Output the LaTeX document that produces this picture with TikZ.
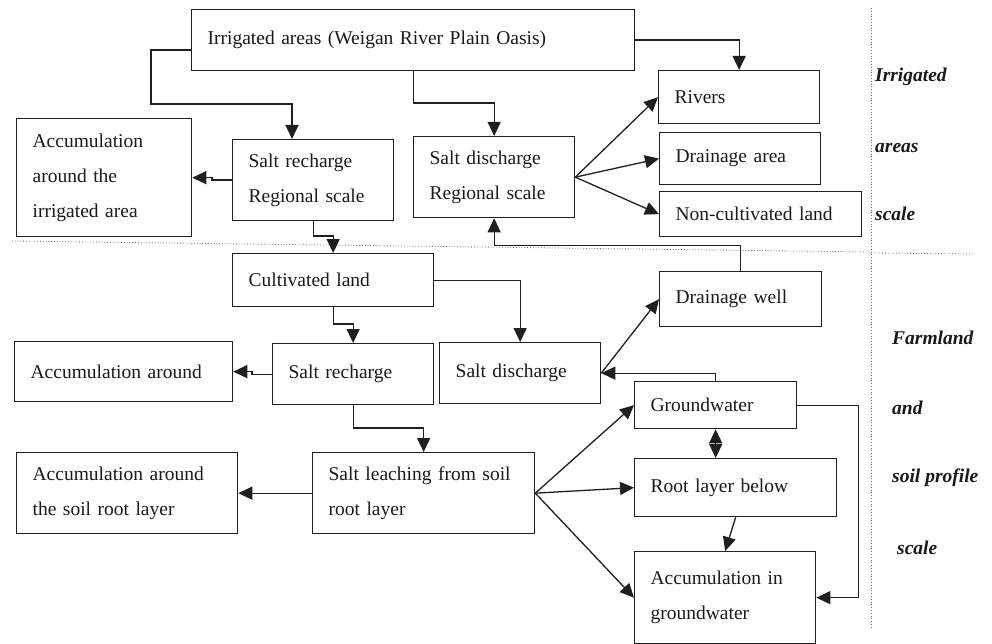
\documentclass[tikz,border=0pt]{standalone}
\usepackage{fontspec}
\setmainfont{Liberation Serif}
\usetikzlibrary{arrows.meta,calc}
\begin{document}
\begin{tikzpicture}[x=1pt,y=-1pt,
  box/.style={draw=black!88, line width=1.3pt, anchor=north west, inner xsep=16pt, inner ysep=0pt,
    align=left, text=black!90, font=\fontsize{19.5pt}{35pt}\selectfont},
  lab/.style={anchor=west, inner sep=0pt, text=black!90, font=\fontsize{19.5pt}{24pt}\selectfont\bfseries\itshape},
  arr/.style={draw=black!88, line width=1.3pt, -{Triangle[length=14pt,width=13pt]}},
  arrb/.style={draw=black!88, line width=1.3pt, {Triangle[length=14pt,width=13pt]}-{Triangle[length=14pt,width=13pt]}},
  dotline/.style={draw=black!60, line width=0.8pt, dotted}]
\useasboundingbox (0,0) rectangle (992,644);

% boxes
\node[box, minimum width=443pt, minimum height=61pt, text width=411pt] (top) at (191,9) {Irrigated areas (Weigan River Plain Oasis)};
\node[box, minimum width=175pt, minimum height=118pt, text width=143pt] (accIrr) at (16,118) {Accumulation\\around the\\irrigated area};
\node[box, minimum width=161pt, minimum height=81pt, text width=129pt] (recReg) at (232,139) {Salt recharge\\Regional scale};
\node[box, minimum width=161pt, minimum height=81pt, text width=129pt] (disReg) at (413,136) {Salt discharge\\Regional scale};
\node[box, minimum width=161pt, minimum height=53pt, text width=129pt] (rivers) at (658,70) {Rivers};
\node[box, minimum width=161pt, minimum height=52pt, text width=129pt] (drainArea) at (659,132) {Drainage area};
\node[box, minimum width=202pt, minimum height=45pt, text width=170pt] (noncult) at (659,191) {Non-cultivated land};
\node[box, minimum width=201pt, minimum height=53pt, text width=169pt] (cult) at (232,253) {Cultivated land};
\node[box, minimum width=162pt, minimum height=55pt, text width=130pt] (well) at (659,271) {Drainage well};
\node[box, minimum width=161pt, minimum height=61pt, text width=129pt] (disFarm) at (439,342) {Salt discharge};
\node[box, minimum width=161pt, minimum height=61pt, text width=129pt] (recFarm) at (272,343) {Salt recharge};
\node[box, minimum width=218pt, minimum height=60pt, text width=186pt] (accAround) at (14,341) {Accumulation around};
\node[box, minimum width=162pt, minimum height=47pt, text width=130pt] (gw) at (634,381) {Groundwater};
\node[box, minimum width=202pt, minimum height=58pt, text width=170pt] (root) at (634,458) {Root layer below};
\node[box, minimum width=181pt, minimum height=92pt, text width=149pt] (accGw) at (634,551) {Accumulation in\\groundwater};
\node[box, minimum width=222pt, minimum height=81pt, text width=190pt] (leach) at (312,452) {Salt leaching from soil\\root layer};
\node[box, minimum width=221pt, minimum height=81pt, text width=189pt] (accRoot) at (16,452) {Accumulation around\\the soil root layer};

% scale labels
\node[lab] (l1) at (875,77) {Irrigated};
\node[lab] (l2) at (875,148) {areas};
\node[lab] (l3) at (875,214) {scale};
\node[lab] (l4) at (892,338) {Farmland};
\node[lab] (l5) at (892,408) {and};
\node[lab] (l6) at (892,478) {soil profile};
\node[lab] (l7) at (897,548) {scale};

% dotted separators
\draw[dotline] (12,241) -- (871,252);
\draw[dotline] (871,253) -- (975,254);
\draw[dotline] (871,8) -- (871,628);

% connectors, regional level
\draw[arr] ($(top.north west)+(0,41)$) -| (151,104) -| ($(recReg.north west)+(60,0)$);
\draw[arr] (top.south) |- ($(disReg.north)+(0,-33)$) -- (disReg.north);
\draw[arr] ($(top.north east)+(0,31)$) -| (rivers.north);
\draw[arr] (recReg.west) -- ++(-20,0) |- (accIrr.east);
\draw[arr] (disReg.east) -- (rivers.west);
\draw[arr] (disReg.east) -- (drainArea.west);
\draw[arr] (disReg.east) -- (noncult.west);
\draw[arr] (recReg.south) |- ($(cult.north)+(0,-17)$) -- (cult.north);
\draw[arr] (well.north) |- ($(disReg.south)+(0,27)$) -- (disReg.south);

% connectors, farmland level
\draw[arr] (cult.east) -| (disFarm.north);
\draw[arr] (cult.south) |- ($(recFarm.north)+(0,-19)$) -- (recFarm.north);
\draw[arr] (recFarm.west) -- ++(-20,0) |- (accAround.east);
\draw[arr] (recFarm.south) |- ($(leach.north)+(0,-24)$) -- (leach.north);
\draw[arr] (leach.west) -- (accRoot.east);
\draw[arr] (leach.east) -- (gw.west);
\draw[arr] (leach.east) -- (root.west);
\draw[arr] (leach.east) -- (accGw.west);
\draw[arr] (disFarm.east) -- (well.west);
\draw[arr] (gw.north) |- (disFarm.east);
\draw[arrb] (gw.south) -- (gw.south |- root.north);
\draw[arr] (root.south) -- (accGw.north);
\draw[arr] (gw.east) -- ++(61,0) |- (accGw.east);
\end{tikzpicture}
\end{document}
